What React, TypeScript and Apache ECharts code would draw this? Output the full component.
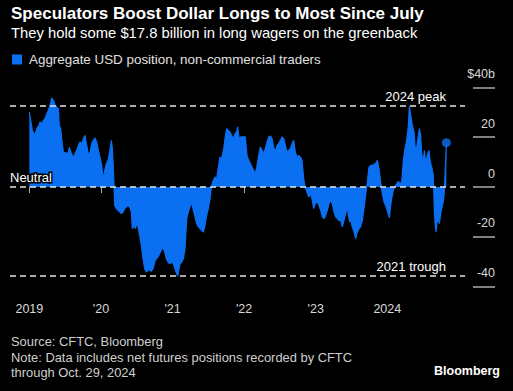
import React, { useEffect, useRef } from "react";
import * as echarts from "echarts";

// Weekly CFTC aggregate USD position (decimal year, $ billions)
const years = [
  2019.0, 2019.042, 2019.08, 2019.103, 2019.135, 2019.149, 2019.173, 2019.196, 2019.219, 2019.243,
  2019.266, 2019.289, 2019.312, 2019.336, 2019.359, 2019.382, 2019.405, 2019.419, 2019.438, 2019.452,
  2019.475, 2019.499, 2019.522, 2019.545, 2019.559, 2019.578, 2019.601, 2019.624, 2019.638, 2019.662,
  2019.685, 2019.708, 2019.731, 2019.755, 2019.778, 2019.792, 2019.81, 2019.824, 2019.848, 2019.871,
  2019.894, 2019.918, 2019.941, 2019.964, 2019.987, 2020.011, 2020.034, 2020.053, 2020.076, 2020.099,
  2020.122, 2020.146, 2020.16, 2020.174, 2020.183, 2020.192, 2020.215, 2020.239, 2020.262, 2020.285,
  2020.309, 2020.332, 2020.355, 2020.378, 2020.402, 2020.425, 2020.439, 2020.462, 2020.481, 2020.495,
  2020.518, 2020.541, 2020.565, 2020.588, 2020.611, 2020.634, 2020.658, 2020.681, 2020.704, 2020.728,
  2020.751, 2020.774, 2020.797, 2020.821, 2020.844, 2020.867, 2020.891, 2020.914, 2020.937, 2020.96,
  2020.988, 2021.012, 2021.035, 2021.058, 2021.072, 2021.091, 2021.105, 2021.128, 2021.151, 2021.175,
  2021.198, 2021.221, 2021.244, 2021.268, 2021.291, 2021.314, 2021.337, 2021.361, 2021.384, 2021.407,
  2021.431, 2021.454, 2021.477, 2021.5, 2021.524, 2021.547, 2021.57, 2021.593, 2021.617, 2021.64,
  2021.663, 2021.687, 2021.701, 2021.719, 2021.733, 2021.756, 2021.78, 2021.803, 2021.826, 2021.849,
  2021.873, 2021.896, 2021.91, 2021.929, 2021.952, 2021.975, 2021.999, 2022.017, 2022.04, 2022.064,
  2022.087, 2022.11, 2022.134, 2022.157, 2022.181, 2022.203, 2022.227, 2022.25, 2022.273, 2022.296,
  2022.32, 2022.343, 2022.366, 2022.39, 2022.413, 2022.436, 2022.459, 2022.483, 2022.506, 2022.529,
  2022.553, 2022.576, 2022.599, 2022.622, 2022.646, 2022.669, 2022.692, 2022.715, 2022.739, 2022.762,
  2022.785, 2022.809, 2022.832, 2022.855, 2022.878, 2022.902, 2022.925, 2022.948, 2022.971, 2022.995,
  2023.018, 2023.046, 2023.069, 2023.092, 2023.116, 2023.139, 2023.162, 2023.186, 2023.209, 2023.232,
  2023.255, 2023.279, 2023.302, 2023.325, 2023.349, 2023.372, 2023.395, 2023.419, 2023.442, 2023.456,
  2023.474, 2023.488, 2023.511, 2023.535, 2023.558, 2023.581, 2023.605, 2023.628, 2023.651, 2023.674,
  2023.698, 2023.721, 2023.744, 2023.768, 2023.791, 2023.814, 2023.837, 2023.861, 2023.884, 2023.907,
  2023.93, 2023.954, 2023.977, 2024.0, 2024.028, 2024.047, 2024.061, 2024.084, 2024.107, 2024.131,
  2024.154, 2024.177, 2024.201, 2024.224, 2024.247, 2024.27, 2024.294, 2024.308, 2024.327, 2024.35,
  2024.373, 2024.387, 2024.401, 2024.42, 2024.434, 2024.448, 2024.466, 2024.48, 2024.503, 2024.517,
  2024.536, 2024.559, 2024.582, 2024.601, 2024.62, 2024.643, 2024.657, 2024.666, 2024.68, 2024.694,
  2024.713, 2024.727, 2024.745, 2024.759, 2024.782, 2024.796, 2024.825,
];

const values = [
  30.1, 22.7, 20.7, 23.4, 24.7, 26.1, 25.4, 26.7, 27.4, 29.4,
  30.8, 32.8, 35.7, 34.8, 32.8, 32.1, 31.4, 24.7, 23.4, 19.4,
  14.0, 13.8, 13.4, 14.0, 16.0, 14.0, 12.7, 12.0, 13.4, 14.7,
  16.7, 18.1, 17.4, 19.4, 20.7, 18.1, 15.4, 12.7, 14.0, 17.4,
  18.7, 19.7, 18.1, 14.7, 12.0, 8.5, 3.0, 6.7, 9.4, 10.7,
  14.0, 18.7, 15.4, 7.4, 0.5, -7.4, -8.7, -9.4, -10.0, -10.7,
  -10.0, -8.7, -8.0, -7.4, -8.0, -10.0, -16.7, -15.4, -16.7, -14.7,
  -16.0, -19.4, -23.4, -28.8, -32.8, -34.1, -33.4, -33.4, -33.8, -32.8,
  -30.1, -28.8, -28.1, -26.7, -25.4, -24.1, -26.1, -28.8, -30.1, -30.8,
  -30.1, -30.8, -32.8, -34.8, -35.8, -32.8, -30.8, -30.1, -28.8, -24.7,
  -12.7, -10.0, -8.0, -6.0, -9.4, -12.0, -14.7, -16.0, -16.7, -17.4,
  -18.1, -15.4, -11.4, -8.7, -4.7, 0.7, 2.7, 4.0, 3.3, 8.0,
  12.0, 11.4, 13.4, 16.0, 19.4, 23.4, 22.7, 22.1, 20.7, 19.4,
  21.4, 22.1, 24.1, 19.4, 20.1, 20.1, 20.1, 20.1, 12.7, 10.7,
  9.4, 8.0, 6.7, 5.3, 8.7, 12.7, 16.0, 14.7, 13.4, 15.4,
  18.1, 20.1, 20.5, 19.4, 16.0, 14.0, 16.7, 17.4, 18.7, 20.1,
  19.4, 16.7, 14.0, 14.7, 15.4, 17.4, 18.7, 14.0, 12.0, 12.7,
  12.0, 10.7, 3.3, -0.5, -2.0, -4.0, -2.7, -4.7, -8.7, -6.5,
  -6.0, -7.4, -9.4, -12.0, -12.7, -11.4, -9.4, -6.7, -5.3, -6.7,
  -10.0, -12.0, -12.7, -13.4, -13.4, -16.0, -13.4, -10.7, -8.0, -11.4,
  -14.0, -13.4, -16.0, -18.1, -20.7, -18.1, -16.7, -16.0, -13.4, -8.7,
  -3.3, 2.0, 8.0, 8.7, 8.7, 9.0, 9.4, 10.7, 7.4, 2.0,
  -2.7, -6.0, -7.4, -9.4, -12.4, -7.4, -4.7, -1.3, 0.3, 1.3,
  2.3, 1.3, 2.0, 10.7, 15.4, 18.7, 24.7, 32.4, 28.8, 24.7,
  22.1, 16.7, 13.4, 18.1, 20.7, 23.4, 20.7, 13.4, 10.0, 14.7,
  9.4, 12.7, 14.7, 10.0, 8.0, 4.7, -10.0, -14.0, -18.1, -14.0,
  -13.4, -14.7, -10.7, -8.7, -6.0, -2.0, 17.8,
];

const yearTicks = [2019, 2020, 2021, 2022, 2023, 2024];

const BLUE = "#0a6ff0";
const FONT = "'Liberation Sans', Arial, sans-serif";

export default function App() {
  const ref = useRef<HTMLDivElement>(null);

  useEffect(() => {
    if (!ref.current) return;
    const chart = echarts.init(ref.current, null, { renderer: "svg" });
    const data = years.map((y, i) => [y, values[i]]);
    const last = data[data.length - 1];
    const peak2024 = Math.max(...values.filter((_, i) => years[i] >= 2024));
    const trough = Math.min(...values);

    const dashed = { color: "#e6e6e6", width: 1.5, type: [6, 4] as any };

    chart.setOption({
      animation: false,
      backgroundColor: "#000",
      textStyle: { fontFamily: FONT },
      legend: {
        left: 7,
        top: 48,
        itemWidth: 10,
        itemHeight: 10,
        icon: "rect",
        textStyle: { color: "#e0e0e0", fontSize: 13.4, fontFamily: FONT, padding: [0, 0, 0, 2] },
        data: ["Aggregate USD position, non-commercial traders"],
      },
      grid: { left: 10, right: 48, top: 87.3, height: 199.4 },
      xAxis: {
        type: "value",
        min: 2018.73,
        max: 2025.085,
        axisLine: { show: false },
        splitLine: { show: false },
        axisTick: {
          show: true,
          length: 6,
          lineStyle: { color: "#aaa", width: 1 },
          customValues: yearTicks,
        },
        axisLabel: {
          color: "#d8d8d8",
          fontSize: 12.5,
          margin: 16,
          fontFamily: FONT,
          customValues: yearTicks,
          formatter: (v: number) => {
            const y = Math.round(v);
            return y === 2019 || y === 2024 ? String(y) : "'" + String(y).slice(2);
          },
        },
      },
      yAxis: {
        type: "value",
        position: "right",
        offset: 8,
        min: -40,
        max: 40,
        interval: 20,
        axisLine: { show: false },
        splitLine: { show: false },
        axisTick: { show: true, length: 22, lineStyle: { color: "#aaa", width: 1.5 } },
        axisLabel: {
          color: "#d8d8d8",
          fontSize: 12.5,
          fontFamily: FONT,
          margin: 22,
          align: "right",
          verticalAlign: "bottom",
          padding: [0, 0, 7, 0],
          formatter: (v: number) => (v === 40 ? "$40b" : String(v)),
        },
      },
      series: [
        {
          name: "Aggregate USD position, non-commercial traders",
          type: "line",
          data,
          showSymbol: false,
          lineStyle: { color: BLUE, width: 1.2 },
          itemStyle: { color: BLUE },
          areaStyle: { color: BLUE, opacity: 1, origin: 0 },
          z: 2,
          markLine: {
            silent: true,
            symbol: "none",
            z: 5,
            lineStyle: dashed,
            data: [
              {
                yAxis: 0,
                label: {
                  show: true,
                  position: "insideStartTop",
                  formatter: "Neutral",
                  color: "#fff",
                  fontSize: 13,
                  fontFamily: FONT,
                  textBorderColor: "#000",
                  textBorderWidth: 3,
                  distance: [0, 3],
                },
              },
              {
                yAxis: peak2024,
                label: {
                  show: true,
                  position: "insideEndTop",
                  formatter: "2024 peak",
                  color: "#fff",
                  fontSize: 13,
                  fontFamily: FONT,
                  distance: [19, 3],
                },
              },
              {
                yAxis: trough,
                label: {
                  show: true,
                  position: "insideEndTop",
                  formatter: "2021 trough",
                  color: "#fff",
                  fontSize: 13,
                  fontFamily: FONT,
                  distance: [19, 3],
                },
              },
            ],
          },
        },
        {
          type: "scatter",
          data: [last],
          symbol: "circle",
          symbolSize: 9,
          itemStyle: { color: BLUE },
          z: 6,
        },
      ],
      graphic: [
        {
          type: "text",
          left: 11,
          top: 5,
          style: {
            text: "Speculators Boost Dollar Longs to Most Since July",
            fill: "#fff",
            font: `bold 17px ${FONT}`,
          },
        },
        {
          type: "text",
          left: 11,
          top: 25,
          style: {
            text: "They hold some $17.8 billion in long wagers on the greenback",
            fill: "#fff",
            font: `14.8px ${FONT}`,
          },
        },
        {
          type: "text",
          left: 11,
          top: 334,
          style: {
            text: "Source: CFTC, Bloomberg\nNote: Data includes net futures positions recorded by CFTC\nthrough Oct. 29, 2024",
            fill: "#cfcfcf",
            font: `12.9px ${FONT}`,
            lineHeight: 15.5,
          },
        },
        {
          type: "text",
          right: 13,
          top: 364,
          style: {
            text: "Bloomberg",
            fill: "#fff",
            font: `bold 12.5px ${FONT}`,
          },
        },
      ],
    });
    return () => chart.dispose();
  }, []);

  return (
    <div
      ref={ref}
      style={{ position: "fixed", left: 0, top: 0, width: 513, height: 391, background: "#000" }}
    />
  );
}
